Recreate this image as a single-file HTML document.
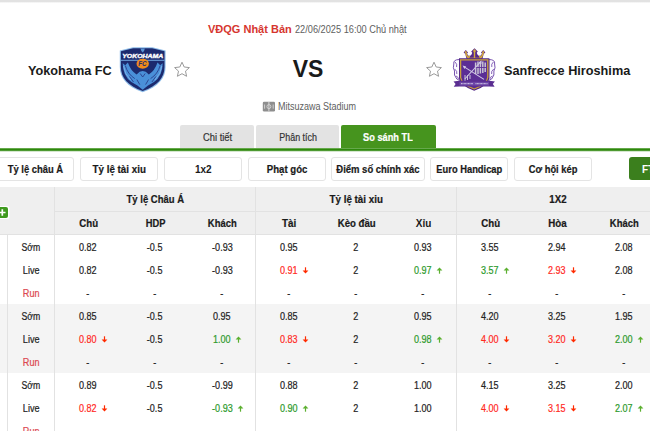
<!DOCTYPE html>
<html><head><meta charset="utf-8">
<style>
*{margin:0;padding:0;box-sizing:border-box}
html,body{width:650px;height:431px;overflow:hidden;background:#fff}
body{position:relative;font-family:"Liberation Sans",sans-serif;color:#222}
.a{position:absolute;white-space:nowrap}
.c{position:absolute;white-space:nowrap;text-align:center}
.c span{-webkit-text-stroke:0.2px currentColor}
</style></head><body>

<div class="a" style="left:0;top:0;width:650px;height:3px;background:linear-gradient(#e2e2e2 0,#e2e2e2 1.6px,#fff 3px)"></div>
<div class="a" style="left:208px;top:22px;line-height:14px;font-size:11px;font-weight:bold;color:#d6362f">VĐQG Nhật Bản</div>
<div class="a" style="left:295px;top:20px;line-height:20px;font-size:10px;color:#606060;transform:scaleX(0.921);transform-origin:0 0">22/06/2025 16:00 Chủ nhật</div>
<div class="a" style="left:28px;top:63px;font-size:12.7px;font-weight:bold;line-height:16px;color:#1a1a1a">Yokohama FC</div>
<div class="a" style="left:504px;top:63px;font-size:12.7px;font-weight:bold;line-height:16px;color:#1a1a1a">Sanfrecce Hiroshima</div>
<div class="a" style="left:292.7px;top:56px;font-size:23px;font-weight:bold;line-height:26px;color:#1a1a1a">VS</div>
<svg class="a" style="left:119px;top:46px" width="48" height="47" viewBox="0 0 48 47">
<path d="M0.8 4.4 L14 1.2 L33.4 1.2 L46.6 4.4 L46.6 21 C46.6 32 39.6 40.5 23.7 46.3 C7.8 40.5 0.8 32 0.8 21 Z" fill="#8cbbe8"/>
<path d="M1.9 5.2 L14.2 2.3 L33.2 2.3 L45.5 5.2 L45.5 21 C45.5 31.4 38.8 39.6 23.7 45.1 C8.6 39.6 1.9 31.4 1.9 21 Z" fill="#1c2a6e"/>
<path d="M21.4 2.6 L25.9 2.6 L25 5 L23.7 6.6 L22.4 5 Z" fill="#5a95d6"/>
<text x="23.7" y="11.9" font-family="Liberation Sans" font-weight="bold" font-style="italic" font-size="6" fill="#ffffff" stroke="#ffffff" stroke-width="0.35" text-anchor="middle" textLength="41" lengthAdjust="spacingAndGlyphs">YOKOHAMA</text>
<rect x="1.9" y="13.8" width="43.6" height="1" fill="#6fa6e0"/>
<ellipse cx="23.7" cy="17.8" rx="6.2" ry="5" fill="#ee8a1c"/>
<text x="23.4" y="20.3" font-family="Liberation Sans" font-weight="bold" font-style="italic" font-size="6.3" fill="#1c2a6e" text-anchor="middle">FC</text>
<path d="M3.7 17.3 L6.2 19.3 L8.9 16.4 Q11.5 24.5 17.6 28.4 Q23.7 21.8 29.8 28.4 Q35.9 24.5 38.5 16.4 L41.2 19.3 L43.7 17.3 Q43.6 30 35 36 L29 39.5 L23.7 43.8 L18.4 39.5 L12.4 36 Q3.8 30 3.7 17.3 Z" fill="#4a90d9"/>
<path d="M6.3 19.6 Q8.6 28 15.8 32.6 M41.1 19.6 Q38.8 28 31.6 32.6 M10.5 30.5 L14.5 36 M36.9 30.5 L32.9 36 M17.8 33.5 L20.8 38.6 M29.6 33.5 L26.6 38.6 M21.2 27.5 L23.7 31 L26.2 27.5" stroke="#2a3f8c" stroke-width="0.9" fill="none"/>
<path d="M4.6 20 Q5.5 28 11.5 34 M42.8 20 Q41.9 28 35.9 34" stroke="#9cc4ee" stroke-width="0.6" fill="none"/>
</svg>
<svg class="a" style="left:173px;top:61px" width="18" height="17" viewBox="0 0 18 17"><path d="M9 1.2 L11.2 6 L16.4 6.6 L12.5 10.1 L13.6 15.3 L9 12.7 L4.4 15.3 L5.5 10.1 L1.6 6.6 L6.8 6 Z" fill="none" stroke="#9a9a9a" stroke-width="1" stroke-linejoin="round"/></svg>
<svg class="a" style="left:425px;top:61px" width="18" height="17" viewBox="0 0 18 17"><path d="M9 1.2 L11.2 6 L16.4 6.6 L12.5 10.1 L13.6 15.3 L9 12.7 L4.4 15.3 L5.5 10.1 L1.6 6.6 L6.8 6 Z" fill="none" stroke="#9a9a9a" stroke-width="1" stroke-linejoin="round"/></svg>
<svg class="a" style="left:448px;top:42px" width="56" height="53" viewBox="0 0 56 53">
<g transform="translate(0,0.8)">
<path d="M15.6 9.6 L17.8 7.2 L20 9.6 L19 11 Q20.8 14.2 22.6 12.8 Q24 11.4 24.2 10 L23.2 8.8 L26.5 5.4 L29.8 8.8 L28.8 10 Q29 11.4 30.4 12.8 Q32.2 14.2 34 11 L33 9.6 L35.2 7.2 L37.4 9.6 L35.6 11.2 Q35.2 14 34.2 16.4 L18.8 16.4 Q17.8 14 17.4 11.2 Z" fill="#55288c"/>
<path d="M17.8 9.5 Q18.4 13.6 20.6 15 Q21.8 14 21.2 12.9 M35.2 9.5 Q34.6 13.6 32.4 15 Q31.2 14 31.8 12.9 M26.5 8 L26.5 15.2" stroke="#d4aa3c" stroke-width="1.4" fill="none"/>
<path d="M19.2 15.4 L33.8 15.4" stroke="#d4aa3c" stroke-width="1"/>
<path d="M17.8 7.9 L19 9.3 L17.8 10.7 L16.6 9.3 Z M35.2 7.9 L36.4 9.3 L35.2 10.7 L34 9.3 Z M26.5 6.3 L28 8.2 L26.5 10.1 L25 8.2 Z" fill="#d4aa3c"/>
</g>
<path d="M11.5 17.5 Q5 17.5 5.8 22 Q4.6 26 6.5 29 Q5.4 33 8.8 37 L11.8 38.5 Z" fill="#fbfaff" stroke="#7a55b0" stroke-width="1"/>
<path d="M40.9 17.5 Q47.4 17.5 46.6 22 Q47.8 26 45.9 29 Q47 33 43.6 37 L40.6 38.5 Z" fill="#fbfaff" stroke="#7a55b0" stroke-width="1"/>
<path d="M7 20 Q9.5 22 8.6 25 M6.6 27 Q9.5 29 8.8 32 M8 34 Q10.5 35 10.5 37 M45.4 20 Q42.9 22 43.8 25 M45.8 27 Q42.9 29 43.6 32 M44.4 34 Q41.9 35 41.9 37" stroke="#7a55b0" stroke-width="0.9" fill="none"/>
<path d="M11 16.3 L41.4 16.3 L41.4 36 Q40 44 26.2 48.8 Q12.4 44 11 36 Z" fill="#4f2487"/>
<path d="M12.6 17.8 L39.8 17.8 L39.8 35.5 Q38.6 42.6 26.2 47 Q13.8 42.6 12.6 35.5 Z" fill="#5b2e95" stroke="#c9a23a" stroke-width="1.3"/>
<path d="M27.6 20.5 L27.6 32 M30 19.6 L30 32 M32.4 19.6 L32.4 31.5 M34.8 19.6 L34.8 31 M37.2 20.5 L37.2 30" stroke="#c8c4d4" stroke-width="1.5"/>
<path d="M27 25.5 L38 25.5" stroke="#5b2e95" stroke-width="0.9"/>
<path d="M15.8 24.6 L36 37.4 M16.8 37 L32.6 19.8" stroke="#d0c8e6" stroke-width="1.1"/>
<path d="M14.6 23.6 L18.2 24.4 L16.4 27 Z M33.6 18.6 L33.4 22.2 L30.8 20.6 Z" fill="#d0c8e6"/>
<path d="M17 33 L17 39 M19.5 33 L19.5 38 M22 33 L22 37" stroke="#c9c3d9" stroke-width="1"/>
<path d="M5.5 39.6 L11 38.8 L41.4 38.8 L46.9 39.6 L44.8 42 L46.6 44.8 L41 44.6 L11.4 44.6 L5.8 44.8 L7.6 42 Z" fill="#5a2d91"/>
<path d="M11.5 39.8 L41 39.8 L41 43.6 L11.5 43.6 Z" fill="#6d46a6"/>
<path d="M13 41.7 L25 41.7 M27.5 41.7 L39.5 41.7" stroke="#dcd4ee" stroke-width="1" stroke-dasharray="1 0.4"/>
</svg>
<svg class="a" style="left:262px;top:101px" width="14" height="11" viewBox="0 0 14 11">
<rect x="0.8" y="0.7" width="12.2" height="9.8" rx="1.3" fill="#8e8e8e"/>
<path d="M6.9 1 V10.2" stroke="#d6d6d6" stroke-width="1"/>
<circle cx="6.9" cy="5.6" r="2" fill="none" stroke="#d6d6d6" stroke-width="0.9"/>
<path d="M2.6 3.5 V7.7 M11.2 3.5 V7.7" stroke="#d6d6d6" stroke-width="0.9"/>
</svg>
<div class="a" style="left:278px;top:97px;font-size:10px;line-height:20px;color:#606060;transform:scaleX(0.90);transform-origin:0 0">Mitsuzawa Stadium</div>
<div class="c" style="left:180px;top:125px;width:74px;height:23px;background:#e3e3e3;border-radius:2px 2px 0 0;font-size:9.4px;"></div>
<div class="c" style="left:256px;top:125px;width:83px;height:23px;background:#e3e3e3;border-radius:2px 2px 0 0;font-size:9.4px;"></div>
<div class="c" style="left:341px;top:125px;width:95px;height:23px;background:#46941e;border-radius:2px 2px 0 0;font-size:9.4px;"></div>
<div class="c" style="left:67.70px;top:128px;width:300px;font-size:10px;line-height:20px;color:#333;"><span style="display:inline-block;transform:scaleX(0.935)">Chi tiết</span></div>
<div class="c" style="left:147.80px;top:128px;width:300px;font-size:10px;line-height:20px;color:#333;"><span style="display:inline-block;transform:scaleX(0.893)">Phân tích</span></div>
<div class="c" style="left:238.40px;top:128px;width:300px;font-size:10px;line-height:20px;color:#fff;font-weight:bold;"><span style="display:inline-block;transform:scaleX(0.922)">So sánh TL</span></div>
<div class="a" style="left:0;top:148px;width:650px;height:4px;background:linear-gradient(rgba(50,140,15,0.75) 0,rgba(50,140,15,0.75) 1px,#2e880c 1px,#2e880c 2px,rgba(46,136,12,0.85) 2px,rgba(46,136,12,0.85) 3px,rgba(46,136,12,0.2) 3px,rgba(46,136,12,0.2) 4px)"></div>
<div class="a" style="left:-4px;top:157px;width:78px;height:24px;border:1px solid #e4e4e4;border-radius:3px;background:#fff"></div>
<div class="a" style="left:80px;top:157px;width:78px;height:24px;border:1px solid #e4e4e4;border-radius:3px;background:#fff"></div>
<div class="a" style="left:164px;top:157px;width:78px;height:24px;border:1px solid #e4e4e4;border-radius:3px;background:#fff"></div>
<div class="a" style="left:248px;top:157px;width:78px;height:24px;border:1px solid #e4e4e4;border-radius:3px;background:#fff"></div>
<div class="a" style="left:331px;top:157px;width:94px;height:24px;border:1px solid #e4e4e4;border-radius:3px;background:#fff"></div>
<div class="a" style="left:430px;top:157px;width:78px;height:24px;border:1px solid #e4e4e4;border-radius:3px;background:#fff"></div>
<div class="a" style="left:514px;top:157px;width:78px;height:24px;border:1px solid #e4e4e4;border-radius:3px;background:#fff"></div>
<div class="c" style="left:-114.40px;top:160px;width:300px;font-size:10px;line-height:20px;color:#1a1a1a;font-weight:bold;"><span style="display:inline-block;transform:scaleX(0.941)">Tỷ lệ châu Á</span></div>
<div class="c" style="left:-30.60px;top:160px;width:300px;font-size:10px;line-height:20px;color:#1a1a1a;font-weight:bold;"><span style="display:inline-block;transform:scaleX(0.978)">Tỷ lệ tài xiu</span></div>
<div class="c" style="left:53.30px;top:160px;width:300px;font-size:10px;line-height:20px;color:#1a1a1a;font-weight:bold;">1x2</div>
<div class="c" style="left:137.20px;top:160px;width:300px;font-size:10px;line-height:20px;color:#1a1a1a;font-weight:bold;"><span style="display:inline-block;transform:scaleX(0.960)">Phạt góc</span></div>
<div class="c" style="left:228.40px;top:160px;width:300px;font-size:10px;line-height:20px;color:#1a1a1a;font-weight:bold;"><span style="display:inline-block;transform:scaleX(0.947)">Điểm số chính xác</span></div>
<div class="c" style="left:319.50px;top:160px;width:300px;font-size:10px;line-height:20px;color:#1a1a1a;font-weight:bold;"><span style="display:inline-block;transform:scaleX(0.934)">Euro Handicap</span></div>
<div class="c" style="left:403.20px;top:160px;width:300px;font-size:10px;line-height:20px;color:#1a1a1a;font-weight:bold;"><span style="display:inline-block;transform:scaleX(0.933)">Cơ hội kép</span></div>
<div class="a" style="left:628.6px;top:157px;width:40px;height:23px;background:#3b7f1d;border-radius:3px"></div>
<div class="a" style="left:642px;top:160px;font-size:10px;line-height:20px;color:#fff;font-weight:bold">FT</div>
<div class="a" style="left:0;top:187px;width:650px;height:48px;background:#efefef"></div>
<div class="a" style="left:0;top:304px;width:650px;height:69px;background:#f4f4f4"></div>
<div class="a" style="left:54px;top:187px;width:1px;height:244px;background:#e2e2e2"></div>
<div class="a" style="left:255px;top:187px;width:1px;height:244px;background:#e2e2e2"></div>
<div class="a" style="left:456px;top:187px;width:1px;height:244px;background:#e2e2e2"></div>
<div class="a" style="left:7px;top:235px;width:1px;height:196px;background:#e2e2e2"></div>
<div class="a" style="left:55px;top:211px;width:595px;height:1px;background:#e2e2e2"></div>
<div class="a" style="left:0;top:234px;width:650px;height:1px;background:#e2e2e2"></div>
<svg class="a" style="left:-5px;top:206px" width="15" height="13" viewBox="0 0 15 13">
<rect x="0.5" y="0" width="14" height="13" rx="2.5" fill="#fff"/>
<rect x="1.5" y="1" width="11.5" height="11" rx="2" fill="#3f9a1f"/>
<path d="M7.3 3.3 V9.7 M4.1 6.5 H10.5" stroke="#fff" stroke-width="1.7"/>
</svg>
<div class="c" style="left:5.50px;top:190px;width:300px;font-size:10px;line-height:20px;color:#1a1a1a;font-weight:bold;"><span style="display:inline-block;transform:scaleX(0.948)">Tỷ lệ Châu Á</span></div>
<div class="c" style="left:206.50px;top:190px;width:300px;font-size:10px;line-height:20px;color:#1a1a1a;font-weight:bold;"><span style="display:inline-block;transform:scaleX(0.978)">Tỷ lệ tài xiu</span></div>
<div class="c" style="left:407.50px;top:190px;width:300px;font-size:10px;line-height:20px;color:#1a1a1a;font-weight:bold;"><span style="display:inline-block;transform:scaleX(0.972)">1X2</span></div>
<div class="c" style="left:-61.50px;top:214px;width:300px;font-size:10px;line-height:20px;color:#1a1a1a;font-weight:bold;"><span style="display:inline-block;transform:scaleX(0.968)">Chủ</span></div>
<div class="c" style="left:5.50px;top:214px;width:300px;font-size:10px;line-height:20px;color:#1a1a1a;font-weight:bold;"><span style="display:inline-block;transform:scaleX(0.930)">HDP</span></div>
<div class="c" style="left:72.50px;top:214px;width:300px;font-size:10px;line-height:20px;color:#1a1a1a;font-weight:bold;"><span style="display:inline-block;transform:scaleX(0.943)">Khách</span></div>
<div class="c" style="left:139.50px;top:214px;width:300px;font-size:10px;line-height:20px;color:#1a1a1a;font-weight:bold;"><span style="display:inline-block;transform:scaleX(0.986)">Tài</span></div>
<div class="c" style="left:206.50px;top:214px;width:300px;font-size:10px;line-height:20px;color:#1a1a1a;font-weight:bold;"><span style="display:inline-block;transform:scaleX(0.962)">Kèo đầu</span></div>
<div class="c" style="left:273.50px;top:214px;width:300px;font-size:10px;line-height:20px;color:#1a1a1a;font-weight:bold;">Xỉu</div>
<div class="c" style="left:340.50px;top:214px;width:300px;font-size:10px;line-height:20px;color:#1a1a1a;font-weight:bold;"><span style="display:inline-block;transform:scaleX(0.968)">Chủ</span></div>
<div class="c" style="left:407.50px;top:214px;width:300px;font-size:10px;line-height:20px;color:#1a1a1a;font-weight:bold;"><span style="display:inline-block;transform:scaleX(0.974)">Hòa</span></div>
<div class="c" style="left:474.50px;top:214px;width:300px;font-size:10px;line-height:20px;color:#1a1a1a;font-weight:bold;"><span style="display:inline-block;transform:scaleX(0.943)">Khách</span></div>
<div class="c" style="left:-119.00px;top:238px;width:300px;font-size:10px;line-height:20px;color:#222;"><span style="display:inline-block;transform:scaleX(0.870)">Sớm</span></div>
<div class="c" style="left:-62.00px;top:238px;width:300px;font-size:10px;line-height:20px;color:#222;"><span style="display:inline-block;transform:scaleX(0.905)">0.82</span></div>
<div class="c" style="left:5.00px;top:238px;width:300px;font-size:10px;line-height:20px;color:#222;"><span style="display:inline-block;transform:scaleX(0.905)">-0.5</span></div>
<div class="c" style="left:72.00px;top:238px;width:300px;font-size:10px;line-height:20px;color:#222;"><span style="display:inline-block;transform:scaleX(0.905)">-0.93</span></div>
<div class="c" style="left:139.00px;top:238px;width:300px;font-size:10px;line-height:20px;color:#222;"><span style="display:inline-block;transform:scaleX(0.905)">0.95</span></div>
<div class="c" style="left:206.00px;top:238px;width:300px;font-size:10px;line-height:20px;color:#222;"><span style="display:inline-block;transform:scaleX(0.905)">2</span></div>
<div class="c" style="left:273.00px;top:238px;width:300px;font-size:10px;line-height:20px;color:#222;"><span style="display:inline-block;transform:scaleX(0.905)">0.93</span></div>
<div class="c" style="left:340.00px;top:238px;width:300px;font-size:10px;line-height:20px;color:#222;"><span style="display:inline-block;transform:scaleX(0.905)">3.55</span></div>
<div class="c" style="left:407.00px;top:238px;width:300px;font-size:10px;line-height:20px;color:#222;"><span style="display:inline-block;transform:scaleX(0.905)">2.94</span></div>
<div class="c" style="left:474.00px;top:238px;width:300px;font-size:10px;line-height:20px;color:#222;"><span style="display:inline-block;transform:scaleX(0.905)">2.08</span></div>
<div class="c" style="left:-119.00px;top:261px;width:300px;font-size:10px;line-height:20px;color:#222;"><span style="display:inline-block;transform:scaleX(0.910)">Live</span></div>
<div class="c" style="left:-62.00px;top:261px;width:300px;font-size:10px;line-height:20px;color:#222;"><span style="display:inline-block;transform:scaleX(0.905)">0.82</span></div>
<div class="c" style="left:5.00px;top:261px;width:300px;font-size:10px;line-height:20px;color:#222;"><span style="display:inline-block;transform:scaleX(0.905)">-0.5</span></div>
<div class="c" style="left:72.00px;top:261px;width:300px;font-size:10px;line-height:20px;color:#222;"><span style="display:inline-block;transform:scaleX(0.905)">-0.93</span></div>
<div class="c" style="left:139.00px;top:261px;width:300px;font-size:10px;line-height:20px;color:#ff2a1f;"><span style="display:inline-block;transform:scaleX(0.905)">0.91</span></div>
<svg class="a" style="left:302.4px;top:267px" width="7" height="7" viewBox="0 0 7 7"><path d="M3.5 0.3 V4.5" stroke="#ff2a00" stroke-width="1.2"/><path d="M0.6 3.4 L6.4 3.4 L3.5 6.6 Z" fill="#ff2a00"/></svg>
<div class="c" style="left:206.00px;top:261px;width:300px;font-size:10px;line-height:20px;color:#222;"><span style="display:inline-block;transform:scaleX(0.905)">2</span></div>
<div class="c" style="left:273.00px;top:261px;width:300px;font-size:10px;line-height:20px;color:#2c9a2c;"><span style="display:inline-block;transform:scaleX(0.905)">0.97</span></div>
<svg class="a" style="left:436.4px;top:267px" width="7" height="7" viewBox="0 0 7 7"><path d="M3.5 6.7 V2.5" stroke="#5cb030" stroke-width="1.2"/><path d="M0.6 3.6 L6.4 3.6 L3.5 0.4 Z" fill="#5cb030"/></svg>
<div class="c" style="left:340.00px;top:261px;width:300px;font-size:10px;line-height:20px;color:#2c9a2c;"><span style="display:inline-block;transform:scaleX(0.905)">3.57</span></div>
<svg class="a" style="left:503.4px;top:267px" width="7" height="7" viewBox="0 0 7 7"><path d="M3.5 6.7 V2.5" stroke="#5cb030" stroke-width="1.2"/><path d="M0.6 3.6 L6.4 3.6 L3.5 0.4 Z" fill="#5cb030"/></svg>
<div class="c" style="left:407.00px;top:261px;width:300px;font-size:10px;line-height:20px;color:#ff2a1f;"><span style="display:inline-block;transform:scaleX(0.905)">2.93</span></div>
<svg class="a" style="left:570.4px;top:267px" width="7" height="7" viewBox="0 0 7 7"><path d="M3.5 0.3 V4.5" stroke="#ff2a00" stroke-width="1.2"/><path d="M0.6 3.4 L6.4 3.4 L3.5 6.6 Z" fill="#ff2a00"/></svg>
<div class="c" style="left:474.00px;top:261px;width:300px;font-size:10px;line-height:20px;color:#222;"><span style="display:inline-block;transform:scaleX(0.905)">2.08</span></div>
<div class="c" style="left:-119.00px;top:284px;width:300px;font-size:10px;line-height:20px;color:#dc4850;"><span style="display:inline-block;transform:scaleX(0.910)">Run</span></div>
<div class="c" style="left:-62.00px;top:284px;width:300px;font-size:10px;line-height:20px;color:#222;"><span style="display:inline-block;transform:scaleX(0.905)">-</span></div>
<div class="c" style="left:5.00px;top:284px;width:300px;font-size:10px;line-height:20px;color:#222;"><span style="display:inline-block;transform:scaleX(0.905)">-</span></div>
<div class="c" style="left:72.00px;top:284px;width:300px;font-size:10px;line-height:20px;color:#222;"><span style="display:inline-block;transform:scaleX(0.905)">-</span></div>
<div class="c" style="left:139.00px;top:284px;width:300px;font-size:10px;line-height:20px;color:#222;"><span style="display:inline-block;transform:scaleX(0.905)">-</span></div>
<div class="c" style="left:206.00px;top:284px;width:300px;font-size:10px;line-height:20px;color:#222;"><span style="display:inline-block;transform:scaleX(0.905)">-</span></div>
<div class="c" style="left:273.00px;top:284px;width:300px;font-size:10px;line-height:20px;color:#222;"><span style="display:inline-block;transform:scaleX(0.905)">-</span></div>
<div class="c" style="left:340.00px;top:284px;width:300px;font-size:10px;line-height:20px;color:#222;"><span style="display:inline-block;transform:scaleX(0.905)">-</span></div>
<div class="c" style="left:407.00px;top:284px;width:300px;font-size:10px;line-height:20px;color:#222;"><span style="display:inline-block;transform:scaleX(0.905)">-</span></div>
<div class="c" style="left:474.00px;top:284px;width:300px;font-size:10px;line-height:20px;color:#222;"><span style="display:inline-block;transform:scaleX(0.905)">-</span></div>
<div class="c" style="left:-119.00px;top:307px;width:300px;font-size:10px;line-height:20px;color:#222;"><span style="display:inline-block;transform:scaleX(0.870)">Sớm</span></div>
<div class="c" style="left:-62.00px;top:307px;width:300px;font-size:10px;line-height:20px;color:#222;"><span style="display:inline-block;transform:scaleX(0.905)">0.85</span></div>
<div class="c" style="left:5.00px;top:307px;width:300px;font-size:10px;line-height:20px;color:#222;"><span style="display:inline-block;transform:scaleX(0.905)">-0.5</span></div>
<div class="c" style="left:72.00px;top:307px;width:300px;font-size:10px;line-height:20px;color:#222;"><span style="display:inline-block;transform:scaleX(0.905)">0.95</span></div>
<div class="c" style="left:139.00px;top:307px;width:300px;font-size:10px;line-height:20px;color:#222;"><span style="display:inline-block;transform:scaleX(0.905)">0.85</span></div>
<div class="c" style="left:206.00px;top:307px;width:300px;font-size:10px;line-height:20px;color:#222;"><span style="display:inline-block;transform:scaleX(0.905)">2</span></div>
<div class="c" style="left:273.00px;top:307px;width:300px;font-size:10px;line-height:20px;color:#222;"><span style="display:inline-block;transform:scaleX(0.905)">0.95</span></div>
<div class="c" style="left:340.00px;top:307px;width:300px;font-size:10px;line-height:20px;color:#222;"><span style="display:inline-block;transform:scaleX(0.905)">4.20</span></div>
<div class="c" style="left:407.00px;top:307px;width:300px;font-size:10px;line-height:20px;color:#222;"><span style="display:inline-block;transform:scaleX(0.905)">3.25</span></div>
<div class="c" style="left:474.00px;top:307px;width:300px;font-size:10px;line-height:20px;color:#222;"><span style="display:inline-block;transform:scaleX(0.905)">1.95</span></div>
<div class="c" style="left:-119.00px;top:330px;width:300px;font-size:10px;line-height:20px;color:#222;"><span style="display:inline-block;transform:scaleX(0.910)">Live</span></div>
<div class="c" style="left:-62.00px;top:330px;width:300px;font-size:10px;line-height:20px;color:#ff2a1f;"><span style="display:inline-block;transform:scaleX(0.905)">0.80</span></div>
<svg class="a" style="left:101.4px;top:336px" width="7" height="7" viewBox="0 0 7 7"><path d="M3.5 0.3 V4.5" stroke="#ff2a00" stroke-width="1.2"/><path d="M0.6 3.4 L6.4 3.4 L3.5 6.6 Z" fill="#ff2a00"/></svg>
<div class="c" style="left:5.00px;top:330px;width:300px;font-size:10px;line-height:20px;color:#222;"><span style="display:inline-block;transform:scaleX(0.905)">-0.5</span></div>
<div class="c" style="left:72.00px;top:330px;width:300px;font-size:10px;line-height:20px;color:#2c9a2c;"><span style="display:inline-block;transform:scaleX(0.905)">1.00</span></div>
<svg class="a" style="left:235.4px;top:336px" width="7" height="7" viewBox="0 0 7 7"><path d="M3.5 6.7 V2.5" stroke="#5cb030" stroke-width="1.2"/><path d="M0.6 3.6 L6.4 3.6 L3.5 0.4 Z" fill="#5cb030"/></svg>
<div class="c" style="left:139.00px;top:330px;width:300px;font-size:10px;line-height:20px;color:#ff2a1f;"><span style="display:inline-block;transform:scaleX(0.905)">0.83</span></div>
<svg class="a" style="left:302.4px;top:336px" width="7" height="7" viewBox="0 0 7 7"><path d="M3.5 0.3 V4.5" stroke="#ff2a00" stroke-width="1.2"/><path d="M0.6 3.4 L6.4 3.4 L3.5 6.6 Z" fill="#ff2a00"/></svg>
<div class="c" style="left:206.00px;top:330px;width:300px;font-size:10px;line-height:20px;color:#222;"><span style="display:inline-block;transform:scaleX(0.905)">2</span></div>
<div class="c" style="left:273.00px;top:330px;width:300px;font-size:10px;line-height:20px;color:#2c9a2c;"><span style="display:inline-block;transform:scaleX(0.905)">0.98</span></div>
<svg class="a" style="left:436.4px;top:336px" width="7" height="7" viewBox="0 0 7 7"><path d="M3.5 6.7 V2.5" stroke="#5cb030" stroke-width="1.2"/><path d="M0.6 3.6 L6.4 3.6 L3.5 0.4 Z" fill="#5cb030"/></svg>
<div class="c" style="left:340.00px;top:330px;width:300px;font-size:10px;line-height:20px;color:#ff2a1f;"><span style="display:inline-block;transform:scaleX(0.905)">4.00</span></div>
<svg class="a" style="left:503.4px;top:336px" width="7" height="7" viewBox="0 0 7 7"><path d="M3.5 0.3 V4.5" stroke="#ff2a00" stroke-width="1.2"/><path d="M0.6 3.4 L6.4 3.4 L3.5 6.6 Z" fill="#ff2a00"/></svg>
<div class="c" style="left:407.00px;top:330px;width:300px;font-size:10px;line-height:20px;color:#ff2a1f;"><span style="display:inline-block;transform:scaleX(0.905)">3.20</span></div>
<svg class="a" style="left:570.4px;top:336px" width="7" height="7" viewBox="0 0 7 7"><path d="M3.5 0.3 V4.5" stroke="#ff2a00" stroke-width="1.2"/><path d="M0.6 3.4 L6.4 3.4 L3.5 6.6 Z" fill="#ff2a00"/></svg>
<div class="c" style="left:474.00px;top:330px;width:300px;font-size:10px;line-height:20px;color:#2c9a2c;"><span style="display:inline-block;transform:scaleX(0.905)">2.00</span></div>
<svg class="a" style="left:637.4px;top:336px" width="7" height="7" viewBox="0 0 7 7"><path d="M3.5 6.7 V2.5" stroke="#5cb030" stroke-width="1.2"/><path d="M0.6 3.6 L6.4 3.6 L3.5 0.4 Z" fill="#5cb030"/></svg>
<div class="c" style="left:-119.00px;top:353px;width:300px;font-size:10px;line-height:20px;color:#dc4850;"><span style="display:inline-block;transform:scaleX(0.910)">Run</span></div>
<div class="c" style="left:-62.00px;top:353px;width:300px;font-size:10px;line-height:20px;color:#222;"><span style="display:inline-block;transform:scaleX(0.905)">-</span></div>
<div class="c" style="left:5.00px;top:353px;width:300px;font-size:10px;line-height:20px;color:#222;"><span style="display:inline-block;transform:scaleX(0.905)">-</span></div>
<div class="c" style="left:72.00px;top:353px;width:300px;font-size:10px;line-height:20px;color:#222;"><span style="display:inline-block;transform:scaleX(0.905)">-</span></div>
<div class="c" style="left:139.00px;top:353px;width:300px;font-size:10px;line-height:20px;color:#222;"><span style="display:inline-block;transform:scaleX(0.905)">-</span></div>
<div class="c" style="left:206.00px;top:353px;width:300px;font-size:10px;line-height:20px;color:#222;"><span style="display:inline-block;transform:scaleX(0.905)">-</span></div>
<div class="c" style="left:273.00px;top:353px;width:300px;font-size:10px;line-height:20px;color:#222;"><span style="display:inline-block;transform:scaleX(0.905)">-</span></div>
<div class="c" style="left:340.00px;top:353px;width:300px;font-size:10px;line-height:20px;color:#222;"><span style="display:inline-block;transform:scaleX(0.905)">-</span></div>
<div class="c" style="left:407.00px;top:353px;width:300px;font-size:10px;line-height:20px;color:#222;"><span style="display:inline-block;transform:scaleX(0.905)">-</span></div>
<div class="c" style="left:474.00px;top:353px;width:300px;font-size:10px;line-height:20px;color:#222;"><span style="display:inline-block;transform:scaleX(0.905)">-</span></div>
<div class="c" style="left:-119.00px;top:376px;width:300px;font-size:10px;line-height:20px;color:#222;"><span style="display:inline-block;transform:scaleX(0.870)">Sớm</span></div>
<div class="c" style="left:-62.00px;top:376px;width:300px;font-size:10px;line-height:20px;color:#222;"><span style="display:inline-block;transform:scaleX(0.905)">0.89</span></div>
<div class="c" style="left:5.00px;top:376px;width:300px;font-size:10px;line-height:20px;color:#222;"><span style="display:inline-block;transform:scaleX(0.905)">-0.5</span></div>
<div class="c" style="left:72.00px;top:376px;width:300px;font-size:10px;line-height:20px;color:#222;"><span style="display:inline-block;transform:scaleX(0.905)">-0.99</span></div>
<div class="c" style="left:139.00px;top:376px;width:300px;font-size:10px;line-height:20px;color:#222;"><span style="display:inline-block;transform:scaleX(0.905)">0.88</span></div>
<div class="c" style="left:206.00px;top:376px;width:300px;font-size:10px;line-height:20px;color:#222;"><span style="display:inline-block;transform:scaleX(0.905)">2</span></div>
<div class="c" style="left:273.00px;top:376px;width:300px;font-size:10px;line-height:20px;color:#222;"><span style="display:inline-block;transform:scaleX(0.905)">1.00</span></div>
<div class="c" style="left:340.00px;top:376px;width:300px;font-size:10px;line-height:20px;color:#222;"><span style="display:inline-block;transform:scaleX(0.905)">4.15</span></div>
<div class="c" style="left:407.00px;top:376px;width:300px;font-size:10px;line-height:20px;color:#222;"><span style="display:inline-block;transform:scaleX(0.905)">3.25</span></div>
<div class="c" style="left:474.00px;top:376px;width:300px;font-size:10px;line-height:20px;color:#222;"><span style="display:inline-block;transform:scaleX(0.905)">2.00</span></div>
<div class="c" style="left:-119.00px;top:399px;width:300px;font-size:10px;line-height:20px;color:#222;"><span style="display:inline-block;transform:scaleX(0.910)">Live</span></div>
<div class="c" style="left:-62.00px;top:399px;width:300px;font-size:10px;line-height:20px;color:#ff2a1f;"><span style="display:inline-block;transform:scaleX(0.905)">0.82</span></div>
<svg class="a" style="left:101.4px;top:405px" width="7" height="7" viewBox="0 0 7 7"><path d="M3.5 0.3 V4.5" stroke="#ff2a00" stroke-width="1.2"/><path d="M0.6 3.4 L6.4 3.4 L3.5 6.6 Z" fill="#ff2a00"/></svg>
<div class="c" style="left:5.00px;top:399px;width:300px;font-size:10px;line-height:20px;color:#222;"><span style="display:inline-block;transform:scaleX(0.905)">-0.5</span></div>
<div class="c" style="left:72.00px;top:399px;width:300px;font-size:10px;line-height:20px;color:#2c9a2c;"><span style="display:inline-block;transform:scaleX(0.905)">-0.93</span></div>
<svg class="a" style="left:236.8px;top:405px" width="7" height="7" viewBox="0 0 7 7"><path d="M3.5 6.7 V2.5" stroke="#5cb030" stroke-width="1.2"/><path d="M0.6 3.6 L6.4 3.6 L3.5 0.4 Z" fill="#5cb030"/></svg>
<div class="c" style="left:139.00px;top:399px;width:300px;font-size:10px;line-height:20px;color:#2c9a2c;"><span style="display:inline-block;transform:scaleX(0.905)">0.90</span></div>
<svg class="a" style="left:302.4px;top:405px" width="7" height="7" viewBox="0 0 7 7"><path d="M3.5 6.7 V2.5" stroke="#5cb030" stroke-width="1.2"/><path d="M0.6 3.6 L6.4 3.6 L3.5 0.4 Z" fill="#5cb030"/></svg>
<div class="c" style="left:206.00px;top:399px;width:300px;font-size:10px;line-height:20px;color:#222;"><span style="display:inline-block;transform:scaleX(0.905)">2</span></div>
<div class="c" style="left:273.00px;top:399px;width:300px;font-size:10px;line-height:20px;color:#222;"><span style="display:inline-block;transform:scaleX(0.905)">1.00</span></div>
<div class="c" style="left:340.00px;top:399px;width:300px;font-size:10px;line-height:20px;color:#ff2a1f;"><span style="display:inline-block;transform:scaleX(0.905)">4.00</span></div>
<svg class="a" style="left:503.4px;top:405px" width="7" height="7" viewBox="0 0 7 7"><path d="M3.5 0.3 V4.5" stroke="#ff2a00" stroke-width="1.2"/><path d="M0.6 3.4 L6.4 3.4 L3.5 6.6 Z" fill="#ff2a00"/></svg>
<div class="c" style="left:407.00px;top:399px;width:300px;font-size:10px;line-height:20px;color:#ff2a1f;"><span style="display:inline-block;transform:scaleX(0.905)">3.15</span></div>
<svg class="a" style="left:570.4px;top:405px" width="7" height="7" viewBox="0 0 7 7"><path d="M3.5 0.3 V4.5" stroke="#ff2a00" stroke-width="1.2"/><path d="M0.6 3.4 L6.4 3.4 L3.5 6.6 Z" fill="#ff2a00"/></svg>
<div class="c" style="left:474.00px;top:399px;width:300px;font-size:10px;line-height:20px;color:#2c9a2c;"><span style="display:inline-block;transform:scaleX(0.905)">2.07</span></div>
<svg class="a" style="left:637.4px;top:405px" width="7" height="7" viewBox="0 0 7 7"><path d="M3.5 6.7 V2.5" stroke="#5cb030" stroke-width="1.2"/><path d="M0.6 3.6 L6.4 3.6 L3.5 0.4 Z" fill="#5cb030"/></svg>
<div class="c" style="left:-119.00px;top:422px;width:300px;font-size:10px;line-height:20px;color:#dc4850;"><span style="display:inline-block;transform:scaleX(0.910)">Run</span></div>
<div class="c" style="left:-62.00px;top:422px;width:300px;font-size:10px;line-height:20px;color:#222;"><span style="display:inline-block;transform:scaleX(0.905)">-</span></div>
<div class="c" style="left:5.00px;top:422px;width:300px;font-size:10px;line-height:20px;color:#222;"><span style="display:inline-block;transform:scaleX(0.905)">-</span></div>
<div class="c" style="left:72.00px;top:422px;width:300px;font-size:10px;line-height:20px;color:#222;"><span style="display:inline-block;transform:scaleX(0.905)">-</span></div>
<div class="c" style="left:139.00px;top:422px;width:300px;font-size:10px;line-height:20px;color:#222;"><span style="display:inline-block;transform:scaleX(0.905)">-</span></div>
<div class="c" style="left:206.00px;top:422px;width:300px;font-size:10px;line-height:20px;color:#222;"><span style="display:inline-block;transform:scaleX(0.905)">-</span></div>
<div class="c" style="left:273.00px;top:422px;width:300px;font-size:10px;line-height:20px;color:#222;"><span style="display:inline-block;transform:scaleX(0.905)">-</span></div>
<div class="c" style="left:340.00px;top:422px;width:300px;font-size:10px;line-height:20px;color:#222;"><span style="display:inline-block;transform:scaleX(0.905)">-</span></div>
<div class="c" style="left:407.00px;top:422px;width:300px;font-size:10px;line-height:20px;color:#222;"><span style="display:inline-block;transform:scaleX(0.905)">-</span></div>
<div class="c" style="left:474.00px;top:422px;width:300px;font-size:10px;line-height:20px;color:#222;"><span style="display:inline-block;transform:scaleX(0.905)">-</span></div>
</body></html>
